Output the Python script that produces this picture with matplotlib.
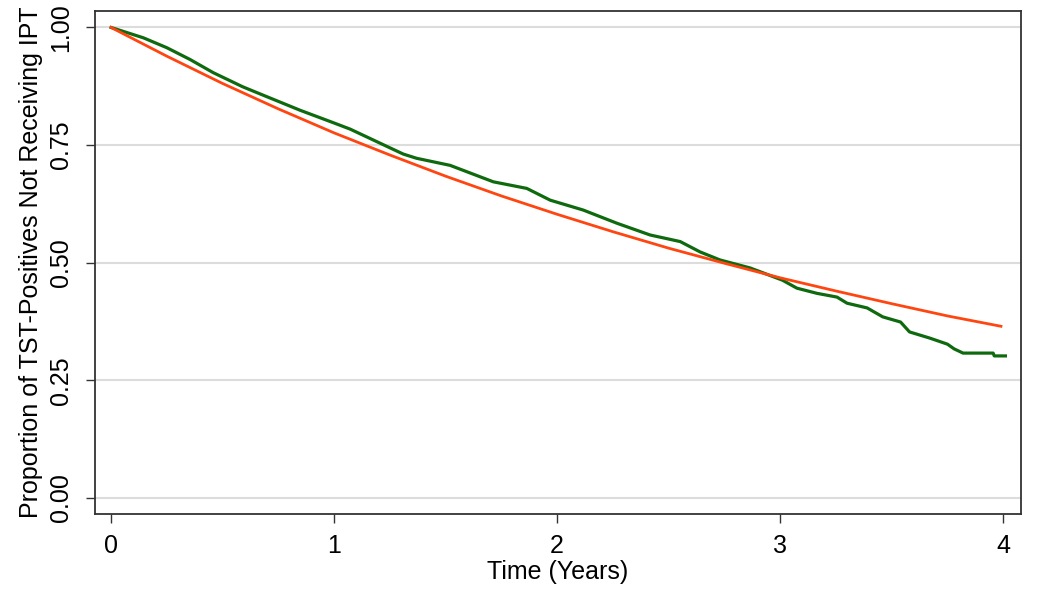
import matplotlib
matplotlib.use('Agg')
import matplotlib.pyplot as plt

plt.rcParams['font.family'] = ['Liberation Sans', 'DejaVu Sans']

# Kaplan-Meier estimate (green)
km_time = [0, 0.145, 0.25, 0.354, 0.458, 0.59, 0.698, 0.848, 1.0, 1.072,
           1.22, 1.31, 1.37, 1.52, 1.714, 1.864, 1.969, 2.117, 2.268, 2.417,
           2.552, 2.641, 2.73, 2.865, 2.91, 3.01, 3.075, 3.165, 3.255, 3.30,
           3.39, 3.46, 3.54, 3.58, 3.67, 3.75, 3.78, 3.82, 3.955, 3.96, 4.01]
km_surv = [1.0, 0.978, 0.957, 0.932, 0.904, 0.874, 0.853, 0.824, 0.797, 0.784,
           0.751, 0.731, 0.722, 0.707, 0.672, 0.658, 0.633, 0.612, 0.584, 0.559,
           0.545, 0.523, 0.506, 0.489, 0.481, 0.463, 0.446, 0.435, 0.427, 0.414,
           0.404, 0.385, 0.374, 0.353, 0.340, 0.327, 0.317, 0.308, 0.308, 0.302, 0.302]

# fitted curve (orange)
fit_time = [0, 0.25, 0.5, 0.75, 1.0, 1.25, 1.5, 1.75, 2.0, 2.25, 2.5,
            2.75, 3.0, 3.25, 3.5, 3.75, 3.99]
fit_surv = [1.000, 0.939, 0.881, 0.827, 0.776, 0.729, 0.684, 0.642, 0.603,
            0.566, 0.531, 0.499, 0.468, 0.440, 0.413, 0.387, 0.365]

x_ticks = [0, 1, 2, 3, 4]
y_ticks = [0.00, 0.25, 0.50, 0.75, 1.00]
y_tick_labels = ['0.00', '0.25', '0.50', '0.75', '1.00']

fig = plt.figure(figsize=(10.5, 5.89), dpi=100)
ax = fig.add_axes([0.0905, 0.1273, 0.8819, 0.854])

ax.plot(km_time, km_surv, color='#0f6a0f', linewidth=2.3, zorder=3)
ax.plot(fit_time, fit_surv, color='#ff4510', linewidth=2.0, zorder=4)

ax.set_xlim(-0.072, 4.08)
ax.set_ylim(-0.034, 1.035)
ax.set_xticks(x_ticks)
ax.set_yticks(y_ticks)
ax.set_yticklabels(y_tick_labels, rotation=90, va='center')
ax.grid(axis='y', color='#dcdcdc', linewidth=1.5)
ax.set_axisbelow(True)

for s in ax.spines.values():
    s.set_color('#333333')
    s.set_linewidth(1.3)
ax.tick_params(axis='both', length=6.5, width=1, color='#333333',
               labelsize=18, labelcolor='black')
ax.tick_params(axis='x', pad=8)
ax.tick_params(axis='y', pad=9)

ax.set_xlabel('Time (Years)', fontsize=18, labelpad=1)
ax.set_ylabel('Proportion of TST-Positives Not Receiving IPT', fontsize=18, labelpad=5)

fig.savefig('out.png', dpi=100)
